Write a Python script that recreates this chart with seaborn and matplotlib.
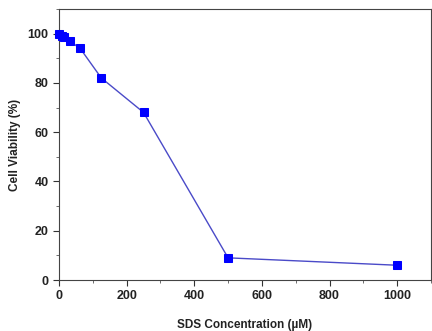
import matplotlib
matplotlib.use("Agg")
import matplotlib.pyplot as plt
import seaborn as sns
import pandas as pd
from matplotlib.ticker import MultipleLocator

sds_conc = [0, 7.8, 15.6, 31.25, 62.5, 125, 250, 500, 1000]
viability = [100, 99.2, 98.5, 97, 94, 82, 68, 9, 6]

df = pd.DataFrame({"conc": sds_conc, "viab": viability})

sns.set_style("ticks")
plt.rcParams['font.family'] = ['Liberation Sans', 'DejaVu Sans']

fig = plt.figure(figsize=(4.32, 3.31), dpi=100)
ax = fig.add_axes([0.1366, 0.154, 0.861, 0.819])

sns.lineplot(data=df, x="conc", y="viab", ax=ax, color="#4a4ac8", linewidth=1.0,
             marker="s", markersize=5.5, markerfacecolor="#0000ff",
             markeredgecolor="#0000ff", clip_on=False, zorder=3)

ax.set_xlim(0, 1100)
ax.set_ylim(0, 110)
ax.set_xticks([0, 200, 400, 600, 800, 1000])
ax.set_yticks([0, 20, 40, 60, 80, 100])
ax.xaxis.set_minor_locator(MultipleLocator(100))
ax.yaxis.set_minor_locator(MultipleLocator(10))
ax.tick_params(which="major", direction="out", length=4, width=0.8, colors="#333333",
               labelsize=9, labelcolor="#222222")
ax.tick_params(which="minor", direction="out", length=2, width=0.6, colors="#555555")
for lab in ax.get_xticklabels() + ax.get_yticklabels():
    lab.set_fontweight("bold")
for s in ax.spines.values():
    s.set_visible(True)
    s.set_color("#444444")
    s.set_linewidth(0.8)

ax.set_xlabel("SDS Concentration (µM)", fontsize=8.5, fontweight="bold", labelpad=12, color="#222222")
ax.set_ylabel("Cell Viability (%)", fontsize=8.5, fontweight="bold", labelpad=5, color="#222222")

fig.savefig("out.png", dpi=100)
